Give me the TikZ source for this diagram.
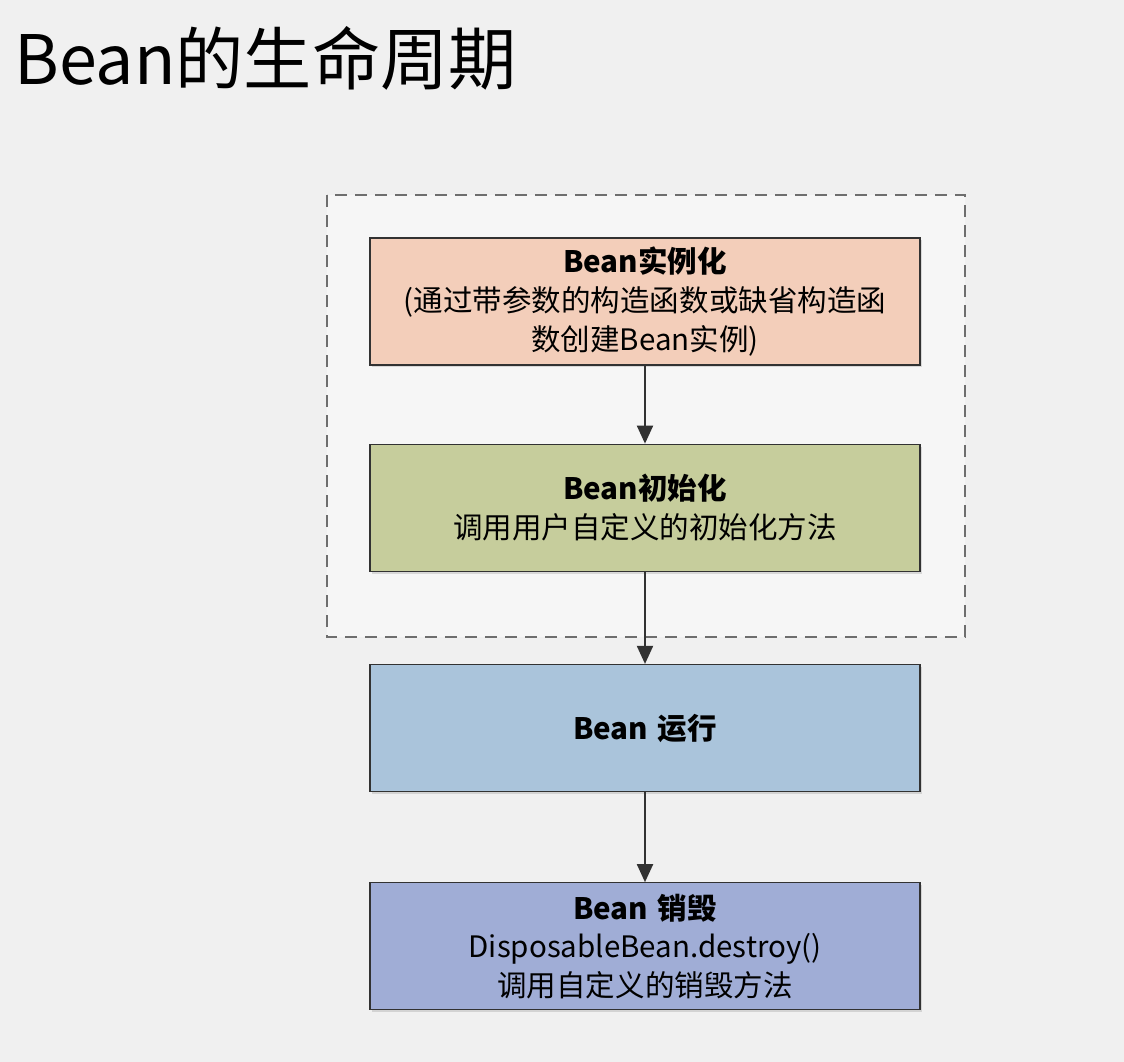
\documentclass[tikz,border=0pt]{standalone}
\usepackage{fontspec}
\setmainfont{Noto Sans CJK SC}
\usetikzlibrary{arrows.meta,positioning,shadows}

\definecolor{pagegray}{RGB}{240,240,240}
\definecolor{framegray}{RGB}{246,246,246}
\definecolor{dashgray}{RGB}{110,110,110}
\definecolor{edgegray}{RGB}{50,50,50}
\definecolor{instcolor}{RGB}{243,206,186}
\definecolor{initcolor}{RGB}{198,205,156}
\definecolor{runcolor}{RGB}{170,196,219}
\definecolor{destcolor}{RGB}{160,173,214}

\begin{document}
\begin{tikzpicture}[
    stage/.style={draw=edgegray, line width=0.9pt, minimum width=13.75cm,
      minimum height=3.175cm, text width=13.2cm, align=center,
      font=\fontsize{21}{27.5}\selectfont,
      drop shadow={shadow xshift=0.06cm, shadow yshift=-0.06cm, opacity=0.25}},
    flow/.style={-{Triangle[length=0.45cm,width=0.4cm]}, line width=1.4pt, draw=edgegray, color=edgegray}
  ]

  % 背景与边界
  \fill[pagegray] (0,0) rectangle (28.1,-26.55);
  \useasboundingbox (0,0) rectangle (28.1,-26.55);

  % 标题
  \node[anchor=base west, inner sep=0, font=\fontsize{48.5}{56}\selectfont] (title) at (0.35,-2.1) {Bean的生命周期};

  % 虚线框
  \draw[fill=framegray, draw=dashgray, line width=1.5pt, dash pattern=on 0.3cm off 0.2cm]
    (8.175,-4.875) rectangle (24.125,-15.925);

  % 四个阶段
  \node[stage, fill=instcolor] (inst) at (16.125,-7.5375)
    {{\bfseries Bean实例化}\\(通过带参数的构造函数或缺省构造函\\数创建Bean实例)};
  \node[stage, fill=initcolor, below=1.95cm of inst] (init)
    {{\bfseries Bean初始化}\\调用用户自定义的初始化方法};
  \node[stage, fill=runcolor, below=2.3cm of init] (run)
    {{\bfseries Bean 运行}};
  \node[stage, fill=destcolor, below=2.25cm of run] (dest)
    {{\bfseries Bean 销毁}\\DisposableBean.destroy()\\调用自定义的销毁方法};

  % 连线
  \draw[flow] (inst) -- (init);
  \draw[flow] (init) -- (run);
  \draw[flow] (run) -- (dest);

\end{tikzpicture}
\end{document}
